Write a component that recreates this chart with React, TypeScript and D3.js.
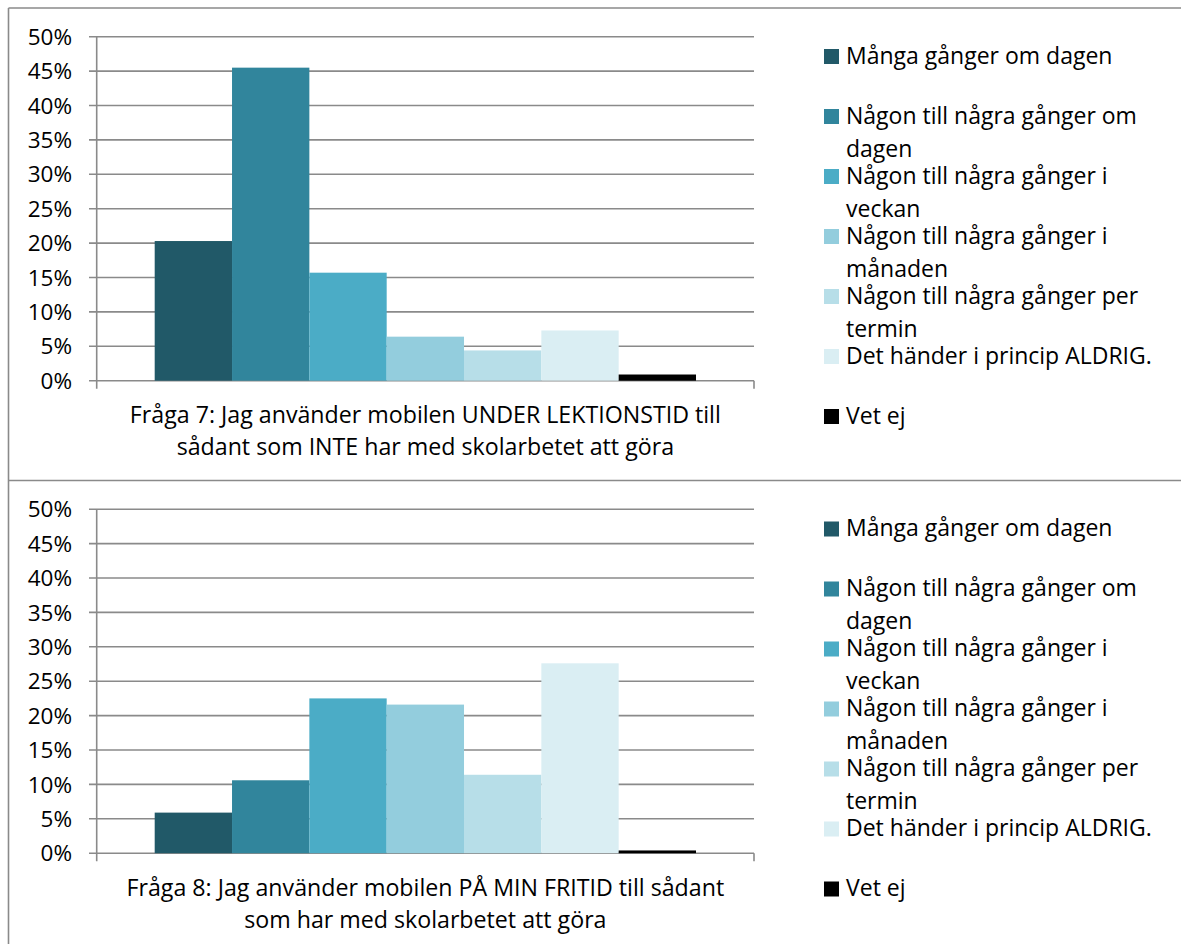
import React from "react";
import * as d3 from "d3";

const categories = [
  "Många gånger om dagen",
  "Någon till några gånger om dagen",
  "Någon till några gånger i veckan",
  "Någon till några gånger i månaden",
  "Någon till några gånger per termin",
  "Det händer i princip ALDRIG.",
  "Vet ej",
];
const legendLines = [
  ["Många gånger om dagen"],
  ["Någon till några gånger om", "dagen"],
  ["Någon till några gånger i", "veckan"],
  ["Någon till några gånger i", "månaden"],
  ["Någon till några gånger per", "termin"],
  ["Det händer i princip ALDRIG."],
  ["Vet ej"],
];
const colors = ["#215968", "#31859C", "#4BACC6", "#93CDDD", "#B7DEE8", "#DAEEF3", "#000000"];
const q7Values = [0.203, 0.455, 0.157, 0.064, 0.044, 0.073, 0.009];
const q8Values = [0.059, 0.106, 0.225, 0.216, 0.114, 0.276, 0.004];
const yTicks = [0, 0.05, 0.1, 0.15, 0.2, 0.25, 0.3, 0.35, 0.4, 0.45, 0.5];
const q7Title = ["Fråga 7: Jag använder mobilen UNDER LEKTIONSTID till", "sådant som INTE har med skolarbetet att göra"];
const q8Title = ["Fråga 8: Jag använder mobilen PÅ MIN FRITID till sådant", "som har med skolarbetet att göra"];

const W = 1181;
const H = 944;
const FONT = "'Open Sans', sans-serif";
const GRID = "#8a8a8a";

const x = d3.scaleBand<string>().domain(categories).range([96.7, 754]).paddingInner(0).paddingOuter(0.75);
const y = d3.scaleLinear().domain([0, 0.5]).range([380.7, 36.7]);
const pct = d3.format(".0%");

function Panel({ values, title, offset }: { values: number[]; title: string[]; offset: number }) {
  const [x0, x1] = x.range();
  return (
    <g transform={`translate(0,${offset})`}>
      {yTicks.map((t) => (
        <g key={t}>
          <line x1={89} x2={x1} y1={y(t)} y2={y(t)} stroke={GRID} strokeWidth={1.6} />
          <text x={72} y={y(t)} dy="0.36em" textAnchor="end" fontFamily={FONT} fontSize={22.5} fill="#000">
            {pct(t)}
          </text>
        </g>
      ))}
      {values.map((v, i) => (
        <rect
          key={i}
          x={x(categories[i])}
          width={x.bandwidth()}
          y={y(v)}
          height={y(0) - y(v)}
          fill={colors[i]}
        />
      ))}
      <line x1={x0} x2={x0} y1={y(0.5)} y2={y(0) + 8} stroke={GRID} strokeWidth={1.6} />
      <line x1={x1} x2={x1} y1={y(0)} y2={y(0) + 8} stroke={GRID} strokeWidth={1.6} />
      {title.map((line, i) => (
        <text
          key={i}
          x={(x0 + x1) / 2}
          y={423 + i * 32}
          textAnchor="middle"
          fontFamily={FONT}
          fontSize={23.2}
          fill="#000"
        >
          {line}
        </text>
      ))}
      {legendLines.map((lines, i) => (
        <g key={i} transform={`translate(824,${49 + i * 60})`}>
          <rect x={0} y={0} width={15} height={15} fill={colors[i]} />
          {lines.map((l, j) => (
            <text key={j} x={22} y={14.5 + j * 33} fontFamily={FONT} fontSize={23} fill="#000">
              {l}
            </text>
          ))}
        </g>
      ))}
    </g>
  );
}

export default function App() {
  return (
    <svg
      width={W}
      height={H}
      style={{ position: "absolute", left: 0, top: 0, background: "#fff" }}
    >
      <rect x={0} y={0} width={W} height={H} fill="#fff" />
      <Panel values={q7Values} title={q7Title} offset={0} />
      <Panel values={q8Values} title={q8Title} offset={472.5} />
      <line x1={8.5} x2={8.5} y1={8} y2={H} stroke={GRID} strokeWidth={1.6} />
      <line x1={8.5} x2={W} y1={8} y2={8} stroke={GRID} strokeWidth={1.6} />
      <line x1={8.5} x2={W} y1={480.5} y2={480.5} stroke={GRID} strokeWidth={1.6} />
    </svg>
  );
}
